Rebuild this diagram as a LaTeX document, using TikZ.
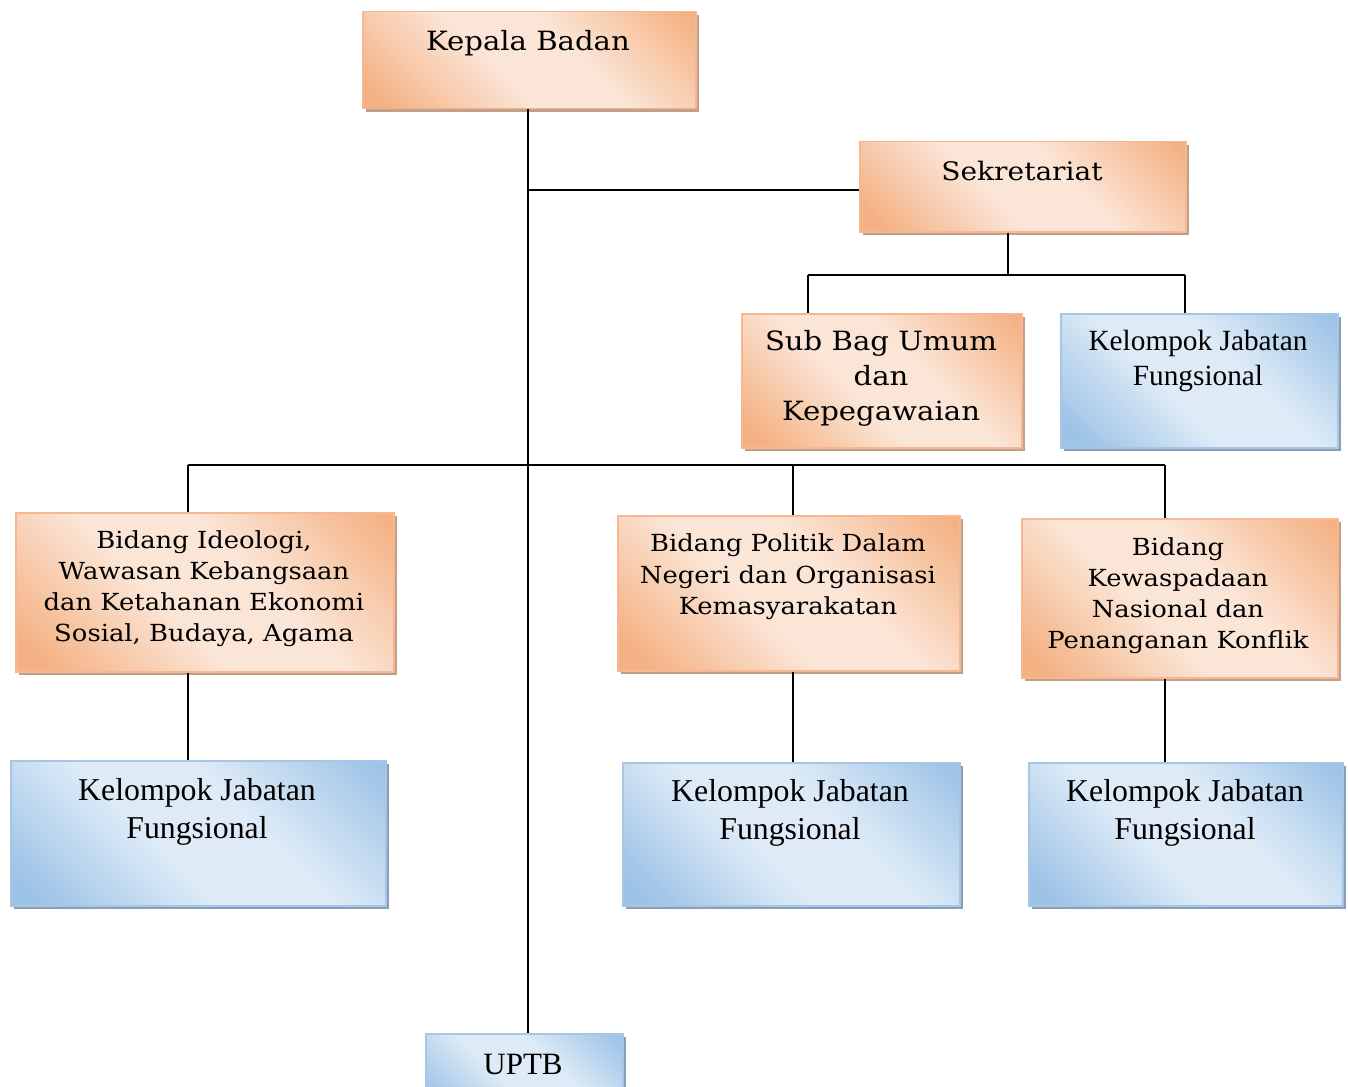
\documentclass[tikz,border=0pt]{standalone}
\usepackage{fontspec}
\setmainfont{Liberation Serif}
\newfontfamily\bkfont[FakeStretch=1.1]{DejaVu Serif}
\usetikzlibrary{shadows}
\definecolor{orD}{HTML}{F4B183}
\definecolor{orL}{HTML}{FBE5D6}
\definecolor{orB}{HTML}{F5B892}
\definecolor{orS}{HTML}{C29F88}
\definecolor{blD}{HTML}{9DC3E6}
\definecolor{blL}{HTML}{DEEBF7}
\definecolor{blB}{HTML}{A5C6E6}
\definecolor{blS}{HTML}{8A9EB6}
\pgfdeclarehorizontalshading{orgrad}{100bp}{color(0bp)=(orD); color(19bp)=(orD); color(43bp)=(orL); color(59bp)=(orL); color(84bp)=(orD); color(100bp)=(orD)}
\pgfdeclarehorizontalshading{blgrad}{100bp}{color(0bp)=(blD); color(19bp)=(blD); color(43bp)=(blL); color(59bp)=(blL); color(84bp)=(blD); color(100bp)=(blD)}
\tikzset{
  obox/.style={rectangle, draw=orB, line width=1.5pt, shading=orgrad, shading angle=45, inner sep=0pt,
    anchor=north west, drop shadow={shadow xshift=3pt, shadow yshift=-3pt, fill=orS, opacity=1}},
  bbox/.style={rectangle, draw=blB, line width=1.5pt, shading=blgrad, shading angle=45, inner sep=0pt,
    anchor=north west, drop shadow={shadow xshift=3pt, shadow yshift=-3pt, fill=blS, opacity=1}},
  otxt/.style={align=center, inner sep=0pt, font=\bkfont},
  btxt/.style={align=center, inner sep=0pt},
  conn/.style={draw=black, line width=2pt}
}
\newcommand{\mkbox}[6]{% style, name, x1, y1, x2, y2
  \pgfmathsetmacro{\bw}{#5-#3}\pgfmathsetmacro{\bh}{#6-#4}
  \node[#1, minimum width=\bw pt, minimum height=\bh pt] (#2) at (#3,#4) {};}
\begin{document}
\begin{tikzpicture}[x=1pt,y=-1pt]
\clip (0,0) rectangle (1348,1086);
\fill[white] (0,0) rectangle (1348,1086);
% boxes
\mkbox{obox}{kb}{362}{11}{695}{108}
\mkbox{obox}{sek}{859}{141}{1185}{231}
\mkbox{obox}{sub}{741}{313}{1021}{447}
\mkbox{bbox}{kjf0}{1060}{313}{1337}{447}
\mkbox{obox}{bid1}{15}{512}{393}{671}
\mkbox{obox}{bid2}{617}{515}{959}{670}
\mkbox{obox}{bid3}{1021}{518}{1337}{677}
\mkbox{bbox}{kjf1}{10}{760}{385}{905}
\mkbox{bbox}{kjf2}{622}{762}{959}{905}
\mkbox{bbox}{kjf3}{1028}{762}{1342}{905}
\mkbox{bbox}{uptb}{425}{1033}{622}{1110}
% texts
\node[otxt, font=\bkfont\fontsize{26.5}{30}\selectfont] (t-kb) at (528,43) {Kepala Badan};
\node[otxt, font=\bkfont\fontsize{25.5}{30}\selectfont] (t-sek) at (1022,171) {Sekretariat};
\node[otxt, font=\bkfont\fontsize{26.5}{35}\selectfont] (t-sub) at (881,378) {Sub Bag Umum\\dan\\Kepegawaian};
\node[btxt, font=\fontsize{29.3}{35}\selectfont] (t-kjf0) at (1198,361) {Kelompok Jabatan\\Fungsional};
\node[otxt, font=\bkfont\fontsize{23.5}{31}\selectfont] (t-bid1) at (204,589) {Bidang Ideologi,\\Wawasan Kebangsaan\\dan Ketahanan Ekonomi\\Sosial, Budaya, Agama};
\node[otxt, font=\bkfont\fontsize{23.5}{31.5}\selectfont] (t-bid2) at (788,577) {Bidang Politik Dalam\\Negeri dan Organisasi\\Kemasyarakatan};
\node[otxt, font=\bkfont\fontsize{23.5}{31}\selectfont] (t-bid3) at (1178,596) {Bidang\\Kewaspadaan\\Nasional dan\\Penanganan Konflik};
\node[btxt, font=\fontsize{31.8}{38}\selectfont] (t-kjf1) at (197,812) {Kelompok Jabatan\\Fungsional};
\node[btxt, font=\fontsize{31.8}{38}\selectfont] (t-kjf2) at (790,813) {Kelompok Jabatan\\Fungsional};
\node[btxt, font=\fontsize{31.8}{38}\selectfont] (t-kjf3) at (1185,813) {Kelompok Jabatan\\Fungsional};
\node[btxt, font=\fontsize{31}{34}\selectfont] (t-uptb) at (523,1064) {UPTB};
% connector junctions
\coordinate (j-sek) at (528,190);
\coordinate (j-mid) at (528,465);
\coordinate (s-top) at (1008,275);
\coordinate (s-l) at (808,275);
\coordinate (s-r) at (1185,275);
\coordinate (b-l) at (188,465);
\coordinate (b-m) at (793,465);
\coordinate (b-r) at (1165,465);
% connectors
\draw[conn] (j-sek |- kb.south) -- (j-sek |- uptb.north);
\draw[conn] (j-sek) -- (j-sek -| sek.west);
\draw[conn] (s-top |- sek.south) -- (s-top);
\draw[conn] (s-l) -- (s-r);
\draw[conn] (s-l) -- (s-l |- sub.north);
\draw[conn] (s-r) -- (s-r |- kjf0.north);
\draw[conn] (b-l) -- (b-r);
\draw[conn] (b-l) -- (b-l |- bid1.north);
\draw[conn] (b-m) -- (b-m |- bid2.north);
\draw[conn] (b-r) -- (b-r |- bid3.north);
\draw[conn] (b-l |- bid1.south) -- (b-l |- kjf1.north);
\draw[conn] (b-m |- bid2.south) -- (b-m |- kjf2.north);
\draw[conn] (b-r |- bid3.south) -- (b-r |- kjf3.north);
\end{tikzpicture}
\end{document}
